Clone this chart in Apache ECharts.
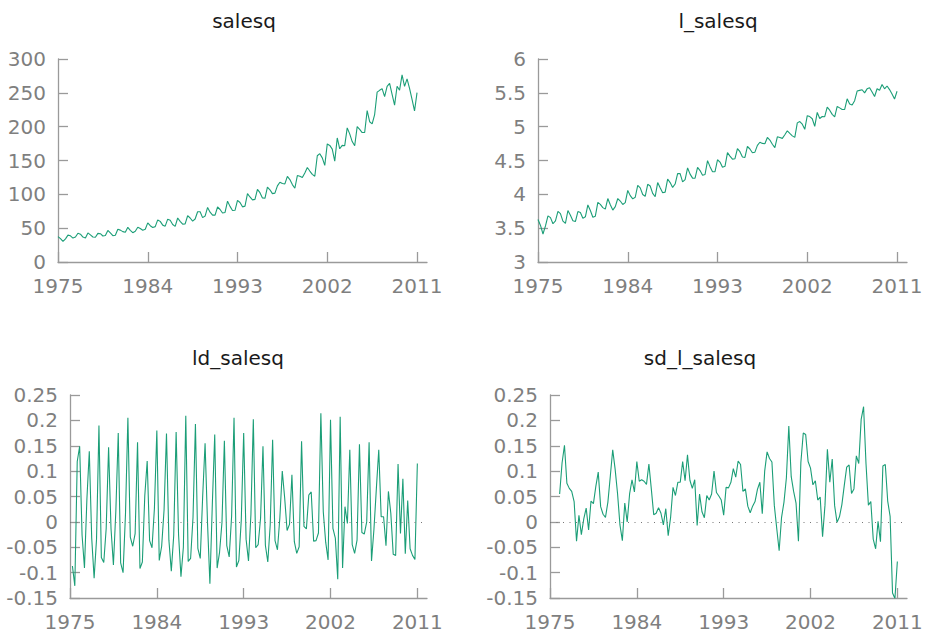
<!DOCTYPE html>
<html>
<head>
<meta charset="utf-8">
<script src="https://cdn.jsdelivr.net/npm/echarts@6/dist/echarts.min.js"></script>
<style>
html,body{margin:0;padding:0;background:#fff;}
#chart{width:928px;height:640px;}
</style>
</head>
<body>
<div id="chart"></div>
<script>
// Quarterly data, 1975Q1 .. 2011Q1
const START_YEAR = 1975;
const xTicks = [1975, 1984, 1993, 2002, 2011];
const titles = ['salesq', 'l_salesq', 'ld_salesq', 'sd_l_salesq'];

// salesq: 1975Q1 .. 2011Q1
const salesq = [
  37.6, 34.5, 30.4, 34.2,  39.7, 38.7, 35.3, 36.9,  42.4, 41.1, 36.8, 35.6,
  43.0, 40.1, 37.0, 36.5,  42.3, 41.8, 38.4, 39.2,  46.7, 43.0, 38.9, 39.5,
  48.5, 47.1, 44.9, 43.9,  51.3, 46.8, 43.3, 45.5,  51.3, 49.5, 47.0, 48.3,
  57.8, 53.6, 51.1, 52.3,  62.2, 60.0, 54.5, 53.0,  63.3, 61.8, 55.4, 52.7,
  65.0, 60.1, 55.9, 56.4,  68.4, 65.0, 60.5, 63.6,  74.2, 74.2, 65.6, 67.9,
  80.6, 73.6, 69.3, 69.3,  81.3, 77.6, 72.4, 73.2,  89.8, 82.2, 76.2, 76.4,
  91.0, 88.0, 81.5, 82.6,  101.1, 96.1, 91.8, 92.5,  107.3, 102.5, 94.7, 94.2,
  110.7, 106.7, 101.0, 101.8,  112.5, 117.9, 115.9, 115.4,  126.6, 121.8, 114.4, 109.0,
  127.7, 126.6, 124.8, 131.6,  139.6, 134.4, 129.5, 126.7,  157.0, 160.1, 153.9, 142.7,
  174.5, 172.3, 166.8, 149.0,  183.3, 167.3, 172.4, 171.9,  198.2, 189.4, 178.0, 171.8,
  200.1, 196.0, 191.3, 191.3,  223.8, 207.3, 204.2, 217.9,  251.1, 253.7, 256.2, 244.5,
  259.6, 264.0, 247.7, 231.8,  259.8, 253.9, 276.5, 259.6,  270.7, 256.7, 240.3, 223.2,
  250.4
];

// l_salesq: 1975Q1 .. 2011Q1
const l_salesq = [
  3.627, 3.540, 3.414, 3.533,  3.682, 3.656, 3.565, 3.609,  3.748, 3.716, 3.605, 3.571,
  3.761, 3.691, 3.611, 3.598,  3.745, 3.732, 3.647, 3.668,  3.843, 3.762, 3.662, 3.677,
  3.882, 3.852, 3.804, 3.781,  3.938, 3.846, 3.767, 3.818,  3.938, 3.901, 3.850, 3.877,
  4.057, 3.981, 3.933, 3.957,  4.131, 4.095, 3.998, 3.971,  4.148, 4.123, 4.015, 3.965,
  4.174, 4.096, 4.024, 4.033,  4.226, 4.174, 4.102, 4.152,  4.307, 4.306, 4.184, 4.218,
  4.390, 4.299, 4.239, 4.238,  4.398, 4.351, 4.282, 4.293,  4.498, 4.409, 4.333, 4.336,
  4.511, 4.477, 4.400, 4.414,  4.616, 4.565, 4.520, 4.527,  4.676, 4.630, 4.551, 4.545,
  4.707, 4.670, 4.615, 4.623,  4.723, 4.770, 4.753, 4.748,  4.841, 4.802, 4.740, 4.691,
  4.850, 4.841, 4.827, 4.880,  4.939, 4.901, 4.864, 4.842,  5.056, 5.076, 5.036, 4.961,
  5.162, 5.149, 5.117, 5.004,  5.211, 5.120, 5.150, 5.147,  5.289, 5.244, 5.182, 5.146,
  5.299, 5.278, 5.254, 5.254,  5.411, 5.334, 5.319, 5.384,  5.526, 5.536, 5.546, 5.499,
  5.559, 5.576, 5.512, 5.446,  5.560, 5.537, 5.622, 5.559,  5.601, 5.548, 5.482, 5.408,
  5.523
];

// ld_salesq: 1975Q2 .. 2011Q1
const ld_salesq = [
          -0.087, -0.126, 0.119,
  0.149, -0.026, -0.091, 0.044,
  0.139, -0.032, -0.111, -0.034,
  0.190, -0.070, -0.080, -0.013,
  0.147, -0.013, -0.085, 0.021,
  0.175, -0.081, -0.100, 0.015,
  0.205, -0.030, -0.048, -0.023,
  0.157, -0.092, -0.079, 0.051,
  0.120, -0.037, -0.051, 0.027,
  0.180, -0.076, -0.048, 0.024,
  0.174, -0.036, -0.097, -0.027,
  0.177, -0.025, -0.108, -0.050,
  0.209, -0.078, -0.072, 0.009,
  0.193, -0.052, -0.072, 0.050,
  0.155, -0.001, -0.122, 0.034,
  0.172, -0.091, -0.060, -0.001,
  0.160, -0.047, -0.069, 0.011,
  0.205, -0.089, -0.076, 0.003,
  0.175, -0.034, -0.077, 0.014,
  0.202, -0.051, -0.045, 0.007,
  0.149, -0.046, -0.079, -0.006,
  0.162, -0.037, -0.055, 0.008,
  0.100, 0.047, -0.017, -0.005,
  0.093, -0.039, -0.062, -0.049,
  0.159, -0.009, -0.014, 0.053,
  0.059, -0.038, -0.037, -0.022,
  0.214, 0.020, -0.040, -0.075,
  0.201, -0.013, -0.032, -0.113,
  0.207, -0.091, 0.030, -0.003,
  0.142, -0.045, -0.062, -0.036,
  0.153, -0.021, -0.024, 0.000,
  0.157, -0.077, -0.015, 0.065,
  0.142, 0.010, 0.010, -0.047,
  0.060, 0.017, -0.064, -0.066,
  0.114, -0.023, 0.085, -0.063,
  0.042, -0.053, -0.066, -0.074,
  0.115
];

// sd_l_salesq: 1976Q1 .. 2011Q1
const sd_l_salesq = [
  0.055, 0.116, 0.151, 0.076,  0.066, 0.060, 0.040, -0.038,  0.013, -0.025, 0.006, 0.027,
  -0.016, 0.041, 0.036, 0.070,  0.098, 0.030, 0.015, 0.009,  0.039, 0.090, 0.142, 0.104,
  0.056, -0.006, -0.037, 0.037,  0.000, 0.055, 0.083, 0.059,  0.119, 0.080, 0.083, 0.080,
  0.074, 0.114, 0.065, 0.014,  0.017, 0.028, 0.017, -0.006,  0.026, -0.027, 0.009, 0.068,
  0.052, 0.078, 0.078, 0.119,  0.081, 0.132, 0.082, 0.066,  0.083, -0.007, 0.055, 0.020,
  0.008, 0.052, 0.043, 0.055,  0.100, 0.058, 0.051, 0.043,  0.013, 0.068, 0.067, 0.078,
  0.105, 0.088, 0.120, 0.113,  0.060, 0.065, 0.031, 0.018,  0.031, 0.040, 0.064, 0.078,
  0.016, 0.100, 0.138, 0.125,  0.118, 0.032, -0.013, -0.057,  0.009, 0.039, 0.087, 0.189,
  0.089, 0.060, 0.037, -0.038,  0.117, 0.175, 0.172, 0.119,  0.106, 0.073, 0.081, 0.043,
  0.049, -0.029, 0.033, 0.143,  0.078, 0.124, 0.032, -0.001,  0.010, 0.034, 0.072, 0.108,
  0.112, 0.056, 0.065, 0.130,  0.115, 0.202, 0.227, 0.115,  0.033, 0.040, -0.034, -0.053,
  0.001, -0.039, 0.110, 0.113,  0.041, 0.011, -0.140, -0.151,  -0.078
];

function pairs(arr, firstQuarter) {
  return arr.map((v, i) => [START_YEAR + (i + firstQuarter) / 4, v]);
}

const LINE_COLOR = '#1b9e77';
const AXIS_COLOR = '#9a9a9a';
const LABEL_COLOR = '#7f7f7f';
const FONT = 'DejaVu Sans';

const grids = [
  {left: 58, top: 59, width: 369, height: 203},
  {left: 538, top: 59, width: 369, height: 203},
  {left: 70, top: 395, width: 357, height: 203},
  {left: 550, top: 395, width: 357, height: 203}
];
const yRanges = [
  {min: 0, max: 300, interval: 50},
  {min: 3, max: 6, interval: 0.5},
  {min: -0.15, max: 0.25, interval: 0.05},
  {min: -0.15, max: 0.25, interval: 0.05}
];
const titlePos = [[244, 21], [718, 21], [238, 358], [700, 358]];

const xAxes = grids.map((g, i) => ({
  type: 'value', gridIndex: i, min: 1975, max: 2012,
  axisLine: {show: true, onZero: false, lineStyle: {color: AXIS_COLOR, width: 1.3}},
  axisTick: {show: true, inside: true, length: 10, customValues: xTicks,
             lineStyle: {color: AXIS_COLOR, width: 1.3}},
  axisLabel: {show: true, customValues: xTicks, color: LABEL_COLOR, fontSize: 20,
              fontFamily: FONT, margin: 14, formatter: v => String(v)},
  splitLine: {show: false}
}));
const yAxes = grids.map((g, i) => ({
  type: 'value', gridIndex: i, min: yRanges[i].min, max: yRanges[i].max, interval: yRanges[i].interval,
  axisLine: {show: true, lineStyle: {color: AXIS_COLOR, width: 1.3}},
  axisTick: {show: true, inside: true, length: 10, lineStyle: {color: AXIS_COLOR, width: 1.3}},
  axisLabel: {show: true, color: LABEL_COLOR, fontSize: 20, fontFamily: FONT, margin: 12,
              formatter: v => String(+v.toFixed(2))},
  splitLine: {show: false}
}));

const zeroLine = {
  silent: true, symbol: 'none', label: {show: false},
  lineStyle: {type: [1, 5.5], color: '#777', width: 1},
  data: [{yAxis: 0}]
};

const seriesData = [pairs(salesq, 0), pairs(l_salesq, 0), pairs(ld_salesq, 1), pairs(sd_l_salesq, 4)];
const series = seriesData.map((d, i) => {
  const s = {
    type: 'line', xAxisIndex: i, yAxisIndex: i, data: d,
    showSymbol: false, symbol: 'none',
    lineStyle: {color: LINE_COLOR, width: 1.1},
    itemStyle: {color: LINE_COLOR},
    z: 3
  };
  if (i >= 2) s.markLine = zeroLine;
  return s;
});

const chart = echarts.init(document.getElementById('chart'), null, {renderer: 'svg'});
chart.setOption({
  animation: false,
  backgroundColor: '#ffffff',
  grid: grids,
  xAxis: xAxes,
  yAxis: yAxes,
  series: series,
  graphic: titles.map((t, i) => ({
    type: 'text', x: titlePos[i][0], y: titlePos[i][1],
    style: {text: t, align: 'center', verticalAlign: 'middle',
            font: '20px "DejaVu Sans"', fill: '#1a1a1a'}
  }))
});
</script>
</body>
</html>
